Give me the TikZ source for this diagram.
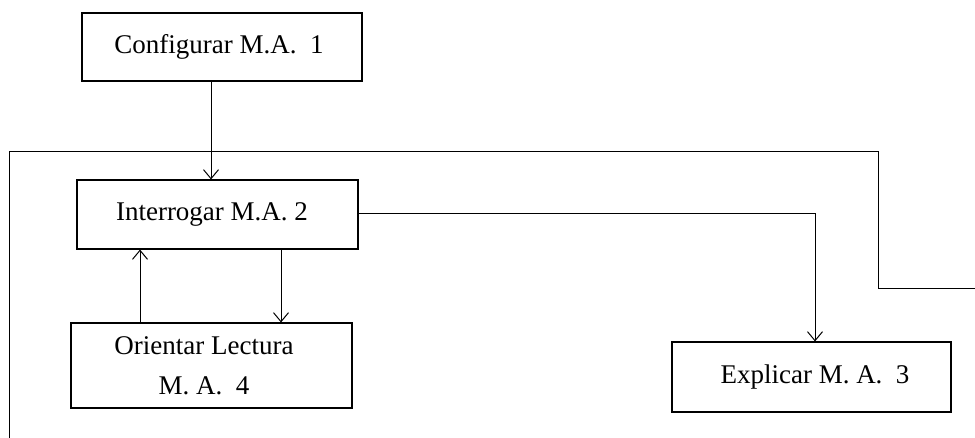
\documentclass[tikz,border=0pt]{standalone}
\usepackage{fontspec}
\setmainfont{Liberation Serif}
\usetikzlibrary{arrows.meta}
\begin{document}
\begin{tikzpicture}[x=1pt,y=-1pt,
  box/.style={draw, line width=1.1pt, inner sep=0pt, anchor=center, font=\fontsize{27}{40}\selectfont},
  conn/.style={line width=1pt},
  arr/.style={conn, -{Straight Barb[length=9pt,width=15pt,line width=1pt]}}]
\useasboundingbox (0,0) rectangle (975,438);
% boxes (drawn as rectangles, text as separate nodes)
\node[box, minimum width=280pt, minimum height=68pt] (b1) at (222,47) {};
\node[font=\fontsize{27}{40}\selectfont] (t1) at (219,47) {Configurar M.A.\ \ 1};
\node[box, minimum width=281pt, minimum height=69pt] (b2) at (217.5,214.5) {};
\node[font=\fontsize{27}{40}\selectfont] (t2) at (212,214.5) {Interrogar M.A. 2};
\node[box, minimum width=281pt, minimum height=85pt] (b4) at (211.5,365.5) {};
\node[font=\fontsize{27}{40}\selectfont, align=center] (t4) at (204,366) {Orientar Lectura\\M. A.\ \ 4};
\node[box, minimum width=279pt, minimum height=70pt] (b3) at (811.5,377) {};
\node[font=\fontsize{27}{40}\selectfont] (t3) at (815,377) {Explicar M. A.\ \ 3};
% connectors
\draw[arr] (b1.south -| 211,0) -- (b2.north -| 211,0);
\draw[arr] (b4.north -| 140,0) -- (b2.south -| 140,0);
\draw[arr] (b2.south -| 281,0) -- (b4.north -| 281,0);
\coordinate (c1) at (815,214);
\draw[arr] (b2.east |- c1) -- (c1) -- (b3.north -| c1);
% loop line
\coordinate (l0) at (9.5,438);
\coordinate (l1) at (9.5,152);
\coordinate (l2) at (878,152);
\coordinate (l3) at (878,289);
\coordinate (l4) at (975,289);
\draw[conn] (l0) -- (l1) -- (l2) -- (l3) -- (l4);
\end{tikzpicture}
\end{document}
